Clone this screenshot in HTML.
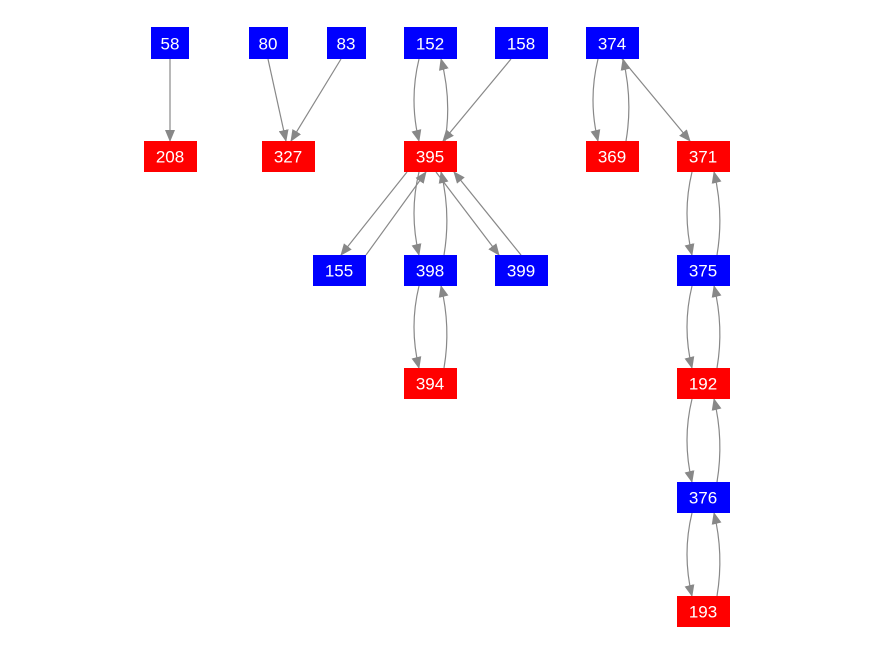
<!DOCTYPE html>
<html><head><meta charset="utf-8"><style>
body{margin:0;background:#fff;}
svg{display:block;}
text{font-family:"Liberation Sans",Arial,sans-serif;font-size:17px;fill:#fff;text-anchor:middle;dominant-baseline:central;}
path{fill:none;stroke:#888;stroke-width:1.2;}
</style></head><body>
<svg width="876" height="656" viewBox="0 0 876 656">
<defs><marker id="a" markerWidth="12" markerHeight="10" refX="11" refY="5" orient="auto" markerUnits="userSpaceOnUse"><path d="M0,0 L12,5 L0,10 Z" style="fill:#888;stroke:none"/></marker></defs>
<g marker-end="url(#a)">
<path d="M170,59 L170,141"/>
<path d="M268,59 L286,141"/>
<path d="M341,59 L291,141"/>
<path d="M419,59 Q409,100 419,141"/>
<path d="M445,141 Q452,100 441,59"/>
<path d="M511,59 L443,141"/>
<path d="M407,172 L341,255"/>
<path d="M366,255 L426,172"/>
<path d="M419,172 Q409,213 419,255"/>
<path d="M444,255 Q451,213 441,172"/>
<path d="M436,172 L499,255"/>
<path d="M521,255 L454,172"/>
<path d="M419,286 Q409,327 419,368"/>
<path d="M444,368 Q451,327 441,286"/>
<path d="M598,59 Q588,100 598,141"/>
<path d="M626,141 Q633,100 623,59"/>
<path d="M622,59 L690,141"/>
<path d="M692,172 Q682,213 692,255"/>
<path d="M717,255 Q724,213 714,172"/>
<path d="M692,286 Q682,327 692,368"/>
<path d="M717,368 Q724,327 714,286"/>
<path d="M692,399 Q682,440 692,482"/>
<path d="M717,482 Q724,440 714,399"/>
<path d="M692,513 Q682,554 692,596"/>
<path d="M717,596 Q724,554 714,513"/>
</g>
<g>
<rect x="151" y="27" width="38" height="32" fill="#0000ff"/><text x="170" y="44">58</text>
<rect x="249" y="27" width="39" height="32" fill="#0000ff"/><text x="268" y="44">80</text>
<rect x="327" y="27" width="39" height="32" fill="#0000ff"/><text x="346" y="44">83</text>
<rect x="404" y="27" width="53" height="32" fill="#0000ff"/><text x="430" y="44">152</text>
<rect x="495" y="27" width="53" height="32" fill="#0000ff"/><text x="521" y="44">158</text>
<rect x="586" y="27" width="53" height="32" fill="#0000ff"/><text x="612" y="44">374</text>
<rect x="144" y="141" width="53" height="31" fill="#ff0000"/><text x="170" y="157">208</text>
<rect x="262" y="141" width="53" height="31" fill="#ff0000"/><text x="288" y="157">327</text>
<rect x="404" y="141" width="53" height="31" fill="#ff0000"/><text x="430" y="157">395</text>
<rect x="586" y="141" width="53" height="31" fill="#ff0000"/><text x="612" y="157">369</text>
<rect x="677" y="141" width="53" height="31" fill="#ff0000"/><text x="703" y="157">371</text>
<rect x="313" y="255" width="53" height="31" fill="#0000ff"/><text x="339" y="271">155</text>
<rect x="404" y="255" width="53" height="31" fill="#0000ff"/><text x="430" y="271">398</text>
<rect x="495" y="255" width="53" height="31" fill="#0000ff"/><text x="521" y="271">399</text>
<rect x="677" y="255" width="53" height="31" fill="#0000ff"/><text x="703" y="271">375</text>
<rect x="404" y="368" width="53" height="31" fill="#ff0000"/><text x="430" y="384">394</text>
<rect x="677" y="368" width="53" height="31" fill="#ff0000"/><text x="703" y="384">192</text>
<rect x="677" y="482" width="53" height="31" fill="#0000ff"/><text x="703" y="498">376</text>
<rect x="677" y="596" width="53" height="31" fill="#ff0000"/><text x="703" y="612">193</text>
</g>
</svg>
</body></html>
